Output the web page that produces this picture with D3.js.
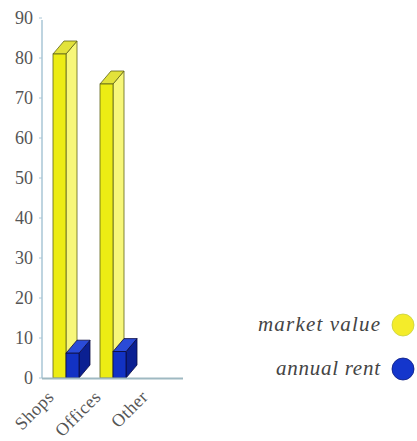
<!DOCTYPE html>
<html>
<head>
<meta charset="utf-8">
<script src="https://cdn.jsdelivr.net/npm/d3@7/dist/d3.min.js"></script>
<style>
  html, body { margin: 0; padding: 0; background: #ffffff; }
  svg { display: block; }
</style>
</head>
<body>
<div id="chart"></div>
<script>
// Property values by use class
const categories = ["Shops", "Offices", "Other"];
const marketValue = [81, 73.5, null];
const annualRent = [6.2, 6.6, null];
const yTicks = [0, 10, 20, 30, 40, 50, 60, 70, 80, 90];
const seriesNames = ["market value", "annual rent"];

const W = 417, H = 441;
const svg = d3.select("#chart").append("svg").attr("width", W).attr("height", H);

const x = d3.scaleBand().domain(categories).range([42, 183]).padding(0);
const y = d3.scaleLinear().domain([0, 90]).range([378, 18]);

// bar geometry within a category band
const barW = 13, depth = { dx: 11, dy: -13 };
const series = [
  { name: seriesNames[0], values: marketValue, offset: 11, legendWidth: 122,
    front: "#ecec14", side: "#f7f77a", top: "#e2e23a", stroke: "#5f6418",
    dot: "#f4ec2a", dotStroke: "#c8d040" },
  { name: seriesNames[1], values: annualRent, offset: 24, legendWidth: 104,
    front: "#1232c4", side: "#0b2092", top: "#2a4bd8", stroke: "#0b0b40",
    dot: "#1436cc", dotStroke: "#0a1a80" }
];

const serif = "'Liberation Serif', 'DejaVu Serif', serif";

// value axis
const axisColor = "#a9c6d6";
svg.append("line")
  .attr("x1", 42).attr("x2", 42).attr("y1", y(90) + 2).attr("y2", y(0))
  .attr("stroke", axisColor).attr("stroke-width", 1.5);

const yAxis = svg.append("g");
yAxis.selectAll("line.tick").data(yTicks).join("line")
  .attr("class", "tick")
  .attr("x1", 39).attr("x2", 42)
  .attr("y1", d => y(d)).attr("y2", d => y(d))
  .attr("stroke", axisColor).attr("stroke-width", 1);
yAxis.selectAll("text").data(yTicks).join("text")
  .attr("x", 33).attr("y", d => y(d))
  .attr("dy", "0.35em")
  .attr("text-anchor", "end")
  .attr("font-family", serif)
  .attr("font-size", 18)
  .attr("fill", "#555")
  .text(d => d);

// 3D bars, drawn series by series so the later series sits in front
function drawBar(g, cat, v, s) {
  const x0 = x(cat) + s.offset, x1 = x0 + barW;
  const yt = y(v), yb = y(0);
  const { dx, dy } = depth;
  g.append("polygon")
    .attr("points", [[x1, yb], [x1 + dx, yb + dy], [x1 + dx, yt + dy], [x1, yt]].join(" "))
    .attr("fill", s.side).attr("stroke", s.stroke).attr("stroke-width", 0.8);
  g.append("polygon")
    .attr("points", [[x0, yt], [x0 + dx, yt + dy], [x1 + dx, yt + dy], [x1, yt]].join(" "))
    .attr("fill", s.top).attr("stroke", s.stroke).attr("stroke-width", 0.8);
  g.append("rect")
    .attr("x", x0).attr("y", yt).attr("width", barW).attr("height", yb - yt)
    .attr("fill", s.front).attr("stroke", s.stroke).attr("stroke-width", 0.8);
}

const bars = svg.append("g");
series.forEach(s => {
  categories.forEach((c, i) => {
    if (s.values[i] != null) drawBar(bars, c, s.values[i], s);
  });
});

// category axis line
svg.append("line")
  .attr("x1", 42).attr("x2", 183).attr("y1", y(0) + 0.5).attr("y2", y(0) + 0.5)
  .attr("stroke", "#9fb9c2").attr("stroke-width", 2);

// category labels, rotated
svg.append("g").selectAll("text").data(categories).join("text")
  .attr("transform", d => `translate(${x(d) + 13},${y(0) + 20}) rotate(-45)`)
  .attr("text-anchor", "end")
  .attr("font-family", serif)
  .attr("font-size", 18)
  .attr("letter-spacing", 0.5)
  .attr("fill", "#555")
  .text(d => d);

// legend
const legend = svg.append("g");
series.forEach((s, i) => {
  const cy = 325 + i * 44;
  legend.append("text")
    .attr("x", 380).attr("y", cy + 6)
    .attr("text-anchor", "end")
    .attr("font-family", serif)
    .attr("font-style", "italic")
    .attr("font-size", 21)
    .attr("textLength", s.legendWidth)
    .attr("lengthAdjust", "spacing")
    .attr("fill", "#444")
    .text(s.name);
  legend.append("circle")
    .attr("cx", 403).attr("cy", cy).attr("r", 11)
    .attr("fill", s.dot)
    .attr("stroke", s.dotStroke).attr("stroke-width", 0.8);
});
</script>
</body>
</html>
